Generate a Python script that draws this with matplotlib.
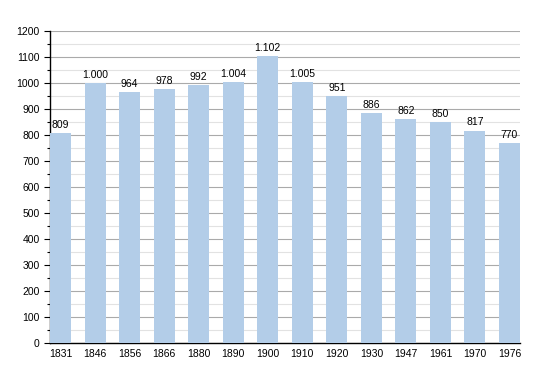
import numpy as np
import matplotlib
matplotlib.use("Agg")
import matplotlib.pyplot as plt
from matplotlib.ticker import MultipleLocator

years = ["1831", "1846", "1856", "1866", "1880", "1890", "1900",
         "1910", "1920", "1930", "1947", "1961", "1970", "1976"]
population = [809, 1000, 964, 978, 992, 1004, 1102,
              1005, 951, 886, 862, 850, 817, 770]

plt.rcParams['font.family'] = ['Liberation Sans', 'DejaVu Sans']


def fmt(v):
    # thousands separator as a dot
    return f"{v:,}".replace(",", ".")


fig = plt.figure(figsize=(5.5, 3.73), dpi=100)
ax = fig.add_axes([50 / 550, 1 - 343 / 373, 470 / 550, 312 / 373])

x = np.arange(len(years))
w = 0.61
ax.bar(x, population, width=w, color="#b3cde8", zorder=3)

for xi, v in zip(x, population):
    ax.text(xi, v + 12, fmt(v), ha="center", va="bottom", fontsize=7.5, zorder=4)

ax.set_xlim(-w / 2, len(years) - 1 + w / 2)
ax.set_ylim(0, 1200)
ax.set_xticks(x)
ax.set_xticklabels(years, fontsize=7.5)
ax.tick_params(axis="x", length=0, pad=4)

ax.yaxis.set_major_locator(MultipleLocator(100))
ax.yaxis.set_minor_locator(MultipleLocator(50))
ax.tick_params(axis="y", which="major", labelsize=7.5, length=4, width=0.8)
ax.tick_params(axis="y", which="minor", length=2.5, width=0.8)

ax.grid(axis="y", which="major", color="#aaaaaa", linewidth=0.8, zorder=0)
ax.grid(axis="y", which="minor", color="#e2e2e2", linewidth=0.8, zorder=0)

for side in ["top", "right"]:
    ax.spines[side].set_visible(False)
ax.spines["left"].set_linewidth(1.0)
ax.spines["bottom"].set_linewidth(1.0)

fig.savefig("out.png", dpi=100)
